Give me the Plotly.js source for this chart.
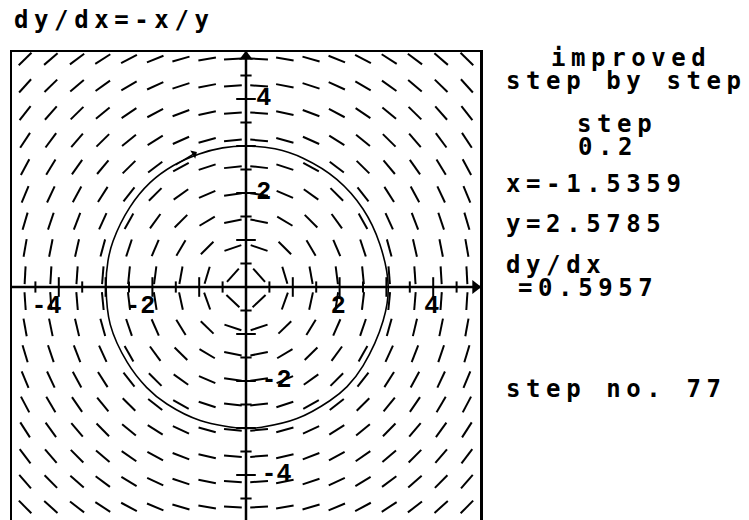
<!DOCTYPE html>
<html><head><meta charset="utf-8">
<script src="https://cdn.plot.ly/plotly-3.0.1.min.js"></script>
<style>
html,body{margin:0;padding:0;overflow:hidden;background:#fff;}
#chart{width:749px;height:524px;}
.annotation-text{letter-spacing:5.6px;}
</style></head><body><div id="chart"></div>
<script>
// ---- data ----
const equationTitle = 'dy/dx=-x/y';
const methodName = 'improved';
const modeName = 'step by step';
const stepSize = 0.2;
const stepNo = 77;
const currentX = -1.5359;
const currentY = 2.5785;
const currentSlope = 0.5957;
const arrowTipX = -1.05;
const arrowTipY = 2.87;
// slope-field sample grid
const gridX = [-4.72, -4.17, -3.61, -3.06, -2.5, -1.94, -1.39, -0.83, -0.28, 0.28, 0.83, 1.39, 1.94, 2.5, 3.06, 3.61, 4.17, 4.72];
const gridY = [4.85, 4.28, 3.7, 3.12, 2.55, 1.97, 1.4, 0.83, 0.25, -0.3, -0.86, -1.42, -1.97, -2.5, -3.04, -3.6, -4.14, -4.68];
// traced solution curve (clockwise)
const pathX = [0, 0.62, 1.22, 1.94, 2.5, 2.86, 3.04, 2.93, 2.5, 2.16, 1.79, 1.09, 0.36, 0, -0.98, -1.69, -2.12, -2.54, -2.9, -2.99, -2.95, -2.84, -2.48, -2.05, -1.56, -1.0, -0.5, 0];
const pathY = [3.0, 2.94, 2.74, 2.29, 1.66, 0.91, 0, -0.72, -1.68, -2.12, -2.42, -2.8, -2.98, -3.01, -2.84, -2.49, -2.14, -1.6, -0.8, 0, 0.55, 0.98, 1.7, 2.22, 2.58, 2.83, 2.96, 3.0];
const axisLabelVals = [-4, -2, 2, 4];
const minorTickVals = [-4.5, -3.5, -2.5, -1.5, -0.5, 0.5, 1.5, 2.5, 3.5, 4.5];
const majorTickVals = [-4, -3, -2, -1, 1, 2, 3, 4];

// ---- geometry ----
const W = 749, H = 524, L = 12, T = 52, PW = 468, PH = 470;
const px = v => (v - L) / PW;
const py = v => (T + PH - v) / PH;
const HALF = 0.19;

// slope field segments from dy/dx = -x/y
const sx = [], sy = [];
gridY.forEach(y => gridX.forEach(x => {
  const m = -x / y;
  const n = Math.sqrt(1 + m * m);
  const dx = HALF / n, dy = HALF * m / n;
  sx.push(x - dx, x + dx, null);
  sy.push(y - dy, y + dy, null);
}));

const black = '#000';
const traces = [
  {type:'scatter', mode:'lines', x:sx, y:sy, line:{color:black, width:2}, hoverinfo:'skip'},
  {type:'scatter', mode:'lines', x:[-5, 5], y:[0, 0], line:{color:black, width:2.5}, hoverinfo:'skip'},
  {type:'scatter', mode:'lines', x:[0, 0], y:[-5, 5], line:{color:black, width:2.5}, hoverinfo:'skip'},
  {type:'scatter', mode:'markers', x:minorTickVals, y:minorTickVals.map(()=>0), marker:{symbol:'line-ns', size:8, line:{color:black, width:2}}, hoverinfo:'skip'},
  {type:'scatter', mode:'markers', x:majorTickVals, y:majorTickVals.map(()=>0), marker:{symbol:'line-ns', size:14, line:{color:black, width:2}}, hoverinfo:'skip'},
  {type:'scatter', mode:'markers', x:minorTickVals.map(()=>0), y:minorTickVals, marker:{symbol:'line-ew', size:8, line:{color:black, width:2}}, hoverinfo:'skip'},
  {type:'scatter', mode:'markers', x:majorTickVals.map(()=>0), y:majorTickVals, marker:{symbol:'line-ew', size:14, line:{color:black, width:2}}, hoverinfo:'skip'},
  {type:'scatter', mode:'markers', x:[4.9, 0], y:[0, 4.9], marker:{symbol:['triangle-right','triangle-up'], size:12, color:black}, hoverinfo:'skip'},
  {type:'scatter', mode:'lines', x:pathX, y:pathY, line:{color:black, width:1.6, shape:'spline'}, hoverinfo:'skip'},
  {type:'scatter', mode:'text',
   x:axisLabelVals.map(v => v + (v < 0 ? -0.26 : -0.03)), y:axisLabelVals.map(()=>-0.43),
   text:axisLabelVals.map(String), textposition:'middle center',
   textfont:{family:'Liberation Mono', size:25, weight:'bold', color:black}, hoverinfo:'skip'},
  {type:'scatter', mode:'text',
   x:axisLabelVals.map(v => v < 0 ? 0.65 : 0.38), y:axisLabelVals,
   text:axisLabelVals.map(String), textposition:'middle center',
   textfont:{family:'Liberation Mono', size:25, weight:'bold', color:black}, hoverinfo:'skip'}
];

const font = {family:'DejaVu Sans Mono', size:24, weight:'bold', color:black};
const panel = [
  [equationTitle, 12, 20],
  [methodName, 549, 58],
  [modeName, 504, 81],
  ['step', 575, 124],
  [String(stepSize), 576, 147],
  ['x=' + currentX.toFixed(4), 504, 184],
  ['y=' + currentY.toFixed(4), 504, 224],
  ['dy/dx', 504, 265],
  ['=' + currentSlope.toFixed(4), 516, 288],
  ['step no. ' + stepNo, 504, 389]
];
const annotations = panel.map(([t, x, y]) => ({
  text:t, xref:'paper', yref:'paper', x:px(x), y:py(y), xanchor:'left', yanchor:'middle',
  showarrow:false, font:font
}));
annotations.push({
  x:arrowTipX, y:arrowTipY, ax:currentX, ay:currentY, xref:'x', yref:'y', axref:'x', ayref:'y',
  text:'', showarrow:true, arrowhead:1, arrowsize:1, arrowwidth:1.6, arrowcolor:black
});

const axis = {range:[-5, 5], showgrid:false, zeroline:false, showticklabels:false, ticks:'',
  showline:true, mirror:true, linecolor:black, linewidth:2.5, fixedrange:true};
const layout = {
  width:W, height:H, margin:{l:L, r:W - L - PW, t:T, b:H - T - PH, pad:0},
  paper_bgcolor:'#fff', plot_bgcolor:'#fff', showlegend:false,
  xaxis:Object.assign({}, axis), yaxis:Object.assign({}, axis),
  annotations:annotations
};
Plotly.newPlot('chart', traces, layout, {displayModeBar:false, staticPlot:true});
</script></body></html>
